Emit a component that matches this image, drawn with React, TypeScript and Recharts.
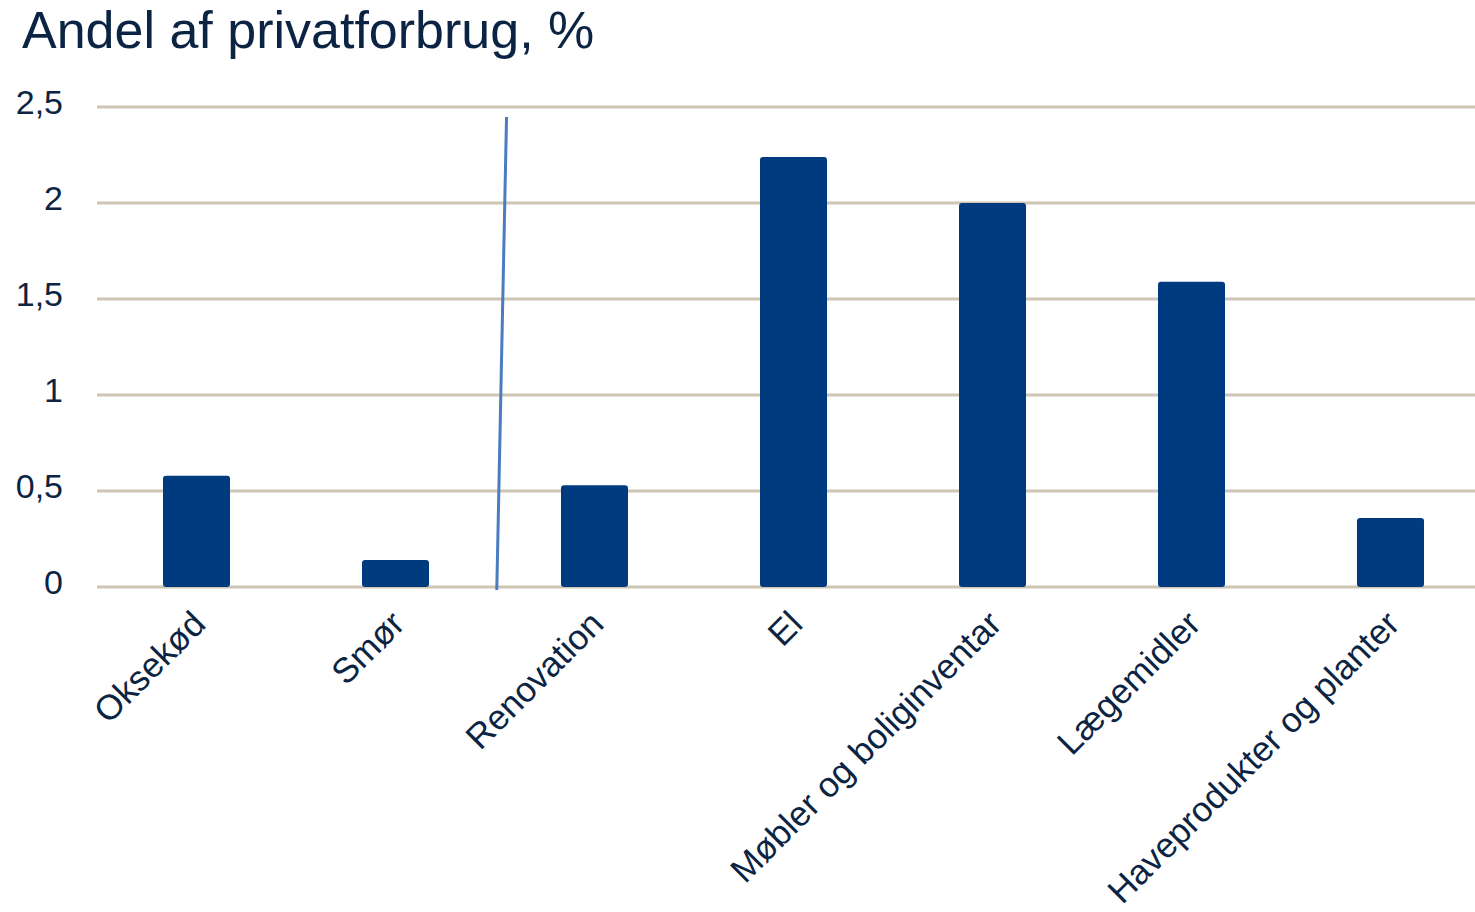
import React from 'react';
import { BarChart, Bar, XAxis, YAxis, CartesianGrid, ReferenceLine } from 'recharts';

const categories = [
  'Oksekød',
  'Smør',
  'Renovation',
  'El',
  'Møbler og boliginventar',
  'Lægemidler',
  'Haveprodukter og planter',
];
const values = [0.58, 0.14, 0.53, 2.24, 2.0, 1.59, 0.36];
const yTicks = [0, 0.5, 1, 1.5, 2, 2.5];
const yTickLabels = ['0', '0,5', '1', '1,5', '2', '2,5'];
// separator between Smør and Renovation: x on a hidden 0–6 axis spanning the plot width, y in values
const separatorDomain = [0, 6];
const separatorTop = { x: 1.764, y: 2.448 };
const separatorBottom = { x: 1.722, y: -0.016 };

const title = 'Andel af privatforbrug, %';

const data = categories.map((c, i) => ({ name: c, value: values[i] }));

const FONT = '"Liberation Sans", Arial, sans-serif';
const TEXT = '#0b2443';

const XTick = (props: any) => {
  const { x, y, payload } = props;
  const ax = x + 11;
  const ay = y + 39;
  return (
    <text
      x={ax}
      y={ay}
      textAnchor="end"
      transform={`rotate(-45 ${ax} ${ay})`}
      fill={TEXT}
      fontSize={35}
      fontFamily={FONT}
    >
      {payload.value}
    </text>
  );
};

const YTick = (props: any) => {
  const { x, y, payload } = props;
  const idx = yTicks.indexOf(payload.value);
  const label = idx >= 0 ? yTickLabels[idx] : String(payload.value);
  return (
    <text x={x} y={y + 7} textAnchor="end" fill={TEXT} fontSize={34} fontFamily={FONT}>
      {label}
    </text>
  );
};

export default function App() {
  return (
    <div
      style={{
        position: 'fixed',
        left: 0,
        top: 0,
        width: 1475,
        height: 912,
        overflow: 'hidden',
        background: '#fff',
      }}
    >
      <div
        style={{
          position: 'absolute',
          left: 22,
          top: 4,
          fontFamily: FONT,
          fontSize: 52,
          lineHeight: '52px',
          color: TEXT,
          whiteSpace: 'nowrap',
        }}
      >
        {title}
      </div>
      <BarChart
        width={1500}
        height={912}
        data={data}
        margin={{ top: 107, right: 10, left: 0, bottom: 0 }}
        barSize={67}
      >
        <CartesianGrid horizontal vertical={false} stroke="#cdc6b3" strokeWidth={3} />
        <XAxis
          dataKey="name"
          axisLine={false}
          tickLine={false}
          tickSize={0}
          tickMargin={0}
          height={325}
          interval={0}
          tick={<XTick />}
        />
        <XAxis
          xAxisId="sep"
          type="number"
          domain={separatorDomain}
          allowDataOverflow
          hide
        />
        <YAxis
          domain={[0, 2.5]}
          ticks={yTicks}
          axisLine={false}
          tickLine={false}
          tickSize={0}
          tickMargin={34}
          width={97}
          tick={<YTick />}
          interval={0}
        />
        <Bar dataKey="value" fill="#003b80" radius={3} isAnimationActive={false} />
        <ReferenceLine
          xAxisId="sep"
          segment={[separatorTop, separatorBottom]}
          stroke="#4a7cc0"
          strokeWidth={3}
          ifOverflow="visible"
        />
      </BarChart>
    </div>
  );
}
